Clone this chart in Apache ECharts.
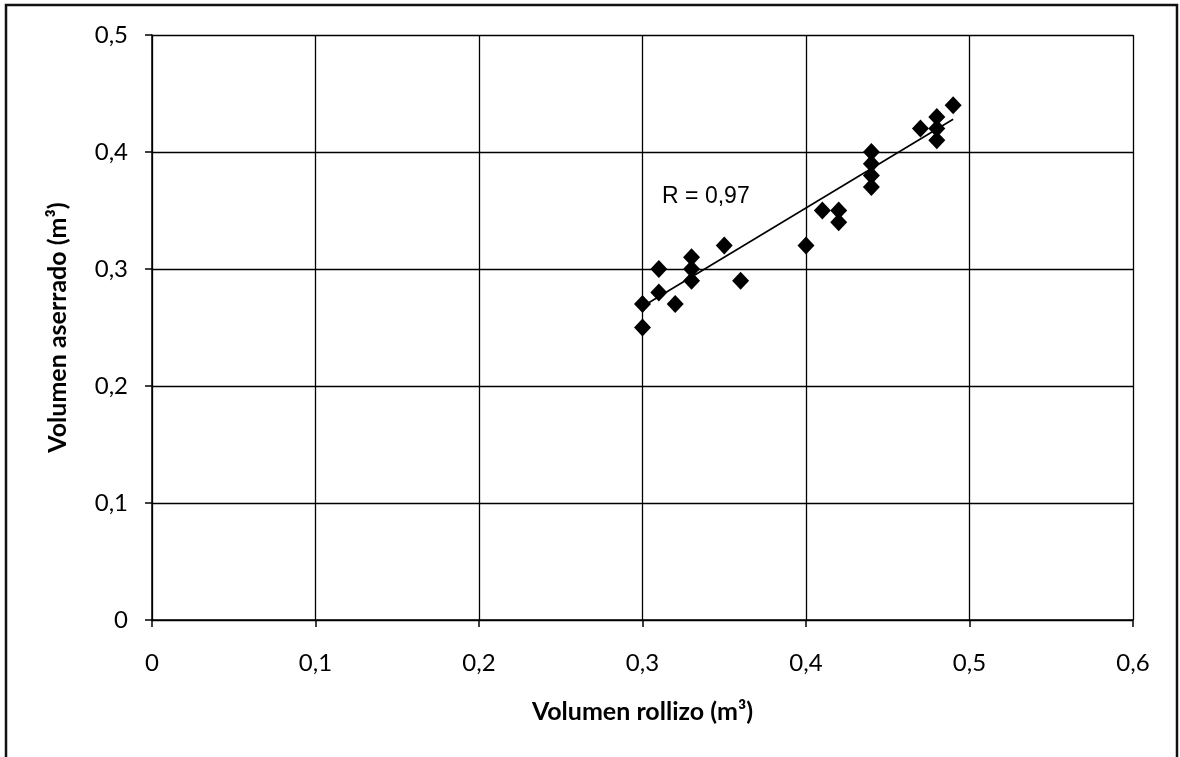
<!DOCTYPE html>
<html>
<head>
<meta charset="utf-8">
<style>
  html, body { margin: 0; padding: 0; background: #fff; }
  #chart { width: 1180px; height: 757px; }
</style>
<script src="https://cdn.jsdelivr.net/npm/echarts@6/dist/echarts.min.js"></script>
</head>
<body>
<div id="chart"></div>
<script>
// Data
const volumenRollizo  = [0.30, 0.30, 0.31, 0.31, 0.32, 0.33, 0.33, 0.33, 0.35, 0.36, 0.40, 0.41, 0.42, 0.42, 0.44, 0.44, 0.44, 0.44, 0.47, 0.48, 0.48, 0.48, 0.49];
const volumenAserrado = [0.25, 0.27, 0.28, 0.30, 0.27, 0.29, 0.30, 0.31, 0.32, 0.29, 0.32, 0.35, 0.34, 0.35, 0.37, 0.38, 0.39, 0.40, 0.42, 0.41, 0.42, 0.43, 0.44];
const trendX = [0.30, 0.49];
const trendY = [0.268, 0.428];
const rLabelText = 'R = 0,97';
const rLabelPos = [0.312, 0.362];
const xTitle = 'Volumen rollizo (m³)';
const yTitle = 'Volumen aserrado (m³)';

const points = volumenRollizo.map((x, i) => [x, volumenAserrado[i]]);
const trend = trendX.map((x, i) => [x, trendY[i]]);

const fmt = v => (v === 0 ? '0' : String(+v.toFixed(1)).replace('.', ','));

const chart = echarts.init(document.getElementById('chart'), null, { renderer: 'canvas' });
chart.setOption({
  backgroundColor: '#fff',
  animation: false,
  graphic: [{
    type: 'rect',
    shape: { x: 6, y: 5, width: 1171, height: 800 },
    style: { fill: 'none', stroke: '#111', lineWidth: 2.5 },
    silent: true,
    z: -1
  }],
  grid: { left: 152, right: 47, top: 35, bottom: 137, containLabel: false },
  xAxis: {
    type: 'value', min: 0, max: 0.6, interval: 0.1,
    name: xTitle, nameLocation: 'middle', nameGap: 79,
    nameTextStyle: { fontFamily: 'Lato', fontWeight: 'bold', fontSize: 25, color: '#000' },
    axisLine: { show: true, onZero: false, lineStyle: { color: '#000', width: 1.5 } },
    axisTick: { show: true, length: 7, lineStyle: { color: '#000', width: 1.5 } },
    axisLabel: { formatter: fmt, margin: 31, fontFamily: 'Lato', fontSize: 24, color: '#000' },
    splitLine: { show: true, lineStyle: { color: '#000', width: 1.3 } }
  },
  yAxis: {
    type: 'value', min: 0, max: 0.5, interval: 0.1,
    name: yTitle, nameLocation: 'middle', nameGap: 82, nameRotate: 90,
    nameTextStyle: { fontFamily: 'Lato', fontWeight: 'bold', fontSize: 25, color: '#000' },
    axisLine: { show: true, onZero: false, lineStyle: { color: '#000', width: 1.5 } },
    axisTick: { show: true, length: 7, lineStyle: { color: '#000', width: 1.5 } },
    axisLabel: { formatter: fmt, margin: 24, fontFamily: 'Lato', fontSize: 24, color: '#000' },
    splitLine: { show: true, lineStyle: { color: '#000', width: 1.3 } }
  },
  series: [
    {
      type: 'line',
      data: trend,
      symbol: 'none',
      lineStyle: { color: '#000', width: 1.6 },
      z: 3
    },
    {
      type: 'scatter',
      data: points,
      symbol: 'diamond',
      symbolSize: [17, 18],
      itemStyle: { color: '#000', opacity: 1 },
      z: 4
    },
    {
      type: 'scatter',
      data: [rLabelPos],
      symbolSize: 0,
      silent: true,
      itemStyle: { opacity: 1 },
      label: {
        show: true, position: 'right', distance: 0,
        formatter: rLabelText,
        fontFamily: 'Liberation Sans', fontSize: 23, color: '#000'
      },
      z: 5
    }
  ]
});
</script>
</body>
</html>
